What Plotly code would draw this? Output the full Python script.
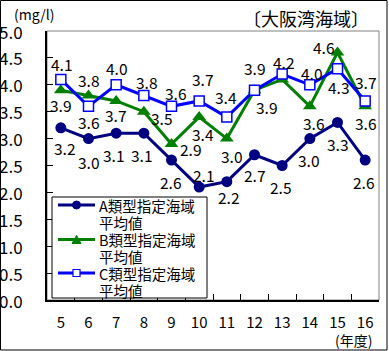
import plotly.graph_objects as go

years = ["5", "6", "7", "8", "9", "10", "11", "12", "13", "14", "15", "16"]
a_vals = [3.2, 3.0, 3.1, 3.1, 2.6, 2.1, 2.2, 2.7, 2.5, 3.0, 3.3, 2.6]
b_vals = [3.9, 3.8, 3.7, 3.5, 2.9, 3.4, 3.0, 3.9, 4.1, 3.6, 4.6, 3.6]
c_vals = [4.1, 3.6, 4.0, 3.8, 3.6, 3.7, 3.4, 3.9, 4.2, 4.0, 4.3, 3.7]
y_ticks = [0.0, 0.5, 1.0, 1.5, 2.0, 2.5, 3.0, 3.5, 4.0, 4.5, 5.0]

series_names = ["A類型指定海域", "B類型指定海域", "C類型指定海域"]
name_suffix = "平均値"
colors = ["#000080", "#008000", "#0000FF"]

FONT = "Noto Sans CJK JP, sans-serif"

# label pixel offsets (dx right, dy down) relative to each point
a_off = [(4, 20), (0, 23), (-2, 22), (-2, 22), (-1, 22), (5, -12), (2, 15), (0, 20), (-1, 21), (-1, 21), (0, 22), (-1, 22)]
b_off = [(0, 15), (0, -16), (0, 14), (18, 6), (19, 5), (4, 17), (5, 17), (12, 17), None, (4, 17), (-14, -6), (1, 17)]
c_off = [(1, -15), (0, 16), (1, -17), (3, -14), (4, -13), (4, -22), (-1, -20), (0, -22), (2, -12), (2, -12), (1, 18), (1, -19)]

L, R, T, B = 47, 10, 31, 51
W, H = 389, 351
pw, ph = W - L - R, H - T - B


def px(x):
    return (x - L) / pw


def py(y):
    return (H - B - y) / ph


fig = go.Figure()
fig.add_trace(go.Scatter(
    x=years, y=a_vals, name=series_names[0] + name_suffix, mode="lines+markers",
    line=dict(color=colors[0], width=3),
    marker=dict(symbol="circle", size=11, color=colors[0]),
))
fig.add_trace(go.Scatter(
    x=years, y=b_vals, name=series_names[1] + name_suffix, mode="lines+markers",
    line=dict(color=colors[1], width=3),
    marker=dict(symbol="triangle-up", size=12, color=colors[1]),
))
fig.add_trace(go.Scatter(
    x=years, y=c_vals, name=series_names[2] + name_suffix, mode="lines+markers",
    line=dict(color=colors[2], width=3),
    marker=dict(symbol="square", size=10, color="white", line=dict(color=colors[2], width=1.5)),
))

annotations = []
for vals, offs in ((a_vals, a_off), (b_vals, b_off), (c_vals, c_off)):
    for i, (v, off) in enumerate(zip(vals, offs)):
        if off is None:
            continue
        annotations.append(dict(
            x=i, y=v, xref="x", yref="y", text=f"{v:.1f}", showarrow=False,
            xanchor="center", yanchor="middle", xshift=off[0], yshift=-off[1],
            font=dict(size=15.5, family=FONT, color="black"),
        ))

# y tick labels placed at the reference's distance from the axis
for t in y_ticks:
    annotations.append(dict(
        x=px(25), y=t, xref="paper", yref="y", text=f"{t:.1f}", showarrow=False,
        xanchor="right", yanchor="middle", font=dict(size=17, family=FONT, color="black"),
    ))

annotations += [
    dict(text="(mg/l)", xref="paper", yref="paper", x=px(12), y=py(14),
         xanchor="left", yanchor="middle", showarrow=False, font=dict(size=14, family=FONT)),
    dict(text="〔大阪湾海域〕", xref="paper", yref="paper", x=px(371), y=py(18),
         xanchor="right", yanchor="middle", showarrow=False, font=dict(size=18, family=FONT)),
    dict(text="(年度)", xref="paper", yref="paper", x=px(374), y=py(340),
         xanchor="right", yanchor="middle", showarrow=False, font=dict(size=14, family=FONT)),
]

shapes = [
    dict(type="rect", xref="paper", yref="paper", x0=0, x1=1, y0=0, y1=1,
         line=dict(color="gray", width=1), layer="below"),
    dict(type="rect", xref="paper", yref="paper",
         x0=px(0.5), x1=px(387), y0=py(350), y1=py(0.5),
         line=dict(color="black", width=1)),
    # legend box
    dict(type="rect", xref="paper", yref="paper",
         x0=px(52), x1=px(207), y0=py(298), y1=py(197),
         fillcolor="white", line=dict(color="black", width=1)),
]

# manual legend entries
row_y = [205, 239.5, 273]
for k, (nm, col, ry) in enumerate(zip(series_names, colors, row_y)):
    shapes.append(dict(type="line", xref="paper", yref="paper",
                       x0=px(58), x1=px(95), y0=py(ry), y1=py(ry),
                       line=dict(color=col, width=3)))
    if k == 0:
        shapes.append(dict(type="circle", xref="paper", yref="paper",
                           x0=px(72.5), x1=px(80.5), y0=py(ry + 4), y1=py(ry - 4),
                           fillcolor=col, line=dict(color=col, width=1)))
    elif k == 1:
        shapes.append(dict(type="path", xref="paper", yref="paper",
                           path=f"M {px(72)},{py(ry + 4)} L {px(81)},{py(ry + 4)} L {px(76.5)},{py(ry - 4)} Z",
                           fillcolor=col, line=dict(color=col, width=1)))
    else:
        shapes.append(dict(type="rect", xref="paper", yref="paper",
                           x0=px(73), x1=px(80), y0=py(ry + 3.5), y1=py(ry - 3.5),
                           fillcolor="white", line=dict(color=col, width=1.2)))
    annotations.append(dict(text=nm, xref="paper", yref="paper", x=px(97), y=py(ry),
                            xanchor="left", yanchor="middle", showarrow=False,
                            font=dict(size=14.5, family=FONT)))
    annotations.append(dict(text=name_suffix, xref="paper", yref="paper", x=px(97), y=py(ry + 17),
                            xanchor="left", yanchor="middle", showarrow=False,
                            font=dict(size=14.5, family=FONT)))

fig.update_layout(
    width=W, height=H,
    margin=dict(l=L, r=R, t=T, b=B),
    paper_bgcolor="white", plot_bgcolor="white",
    font=dict(family=FONT, size=14, color="black"),
    showlegend=False,
    xaxis=dict(
        type="category", range=[-0.5, 11.5], tickson="boundaries",
        ticks="inside", ticklen=6, tickcolor="black",
        showline=True, linecolor="black", linewidth=1.5,
        showgrid=False, zeroline=False,
        tickfont=dict(size=15, family=FONT), ticklabelstandoff=8,
    ),
    yaxis=dict(
        range=[0, 5], tickvals=y_ticks, showticklabels=False,
        ticks="inside", ticklen=6, tickcolor="black",
        showline=True, linecolor="black", linewidth=1.5,
        showgrid=False, zeroline=False,
    ),
    shapes=shapes,
    annotations=annotations,
)

fig.write_html("out.html")
